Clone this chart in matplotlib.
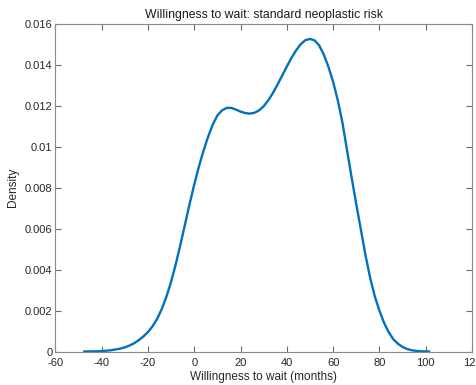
import matplotlib
matplotlib.use("Agg")
import matplotlib.pyplot as plt
from matplotlib.ticker import FuncFormatter

plt.rcParams['font.family'] = ['Liberation Sans', 'DejaVu Sans']
plt.rcParams['axes.unicode_minus'] = False

# Values (kernel density estimate of waiting time)
months = [-48, -46, -44, -42, -40, -38, -36, -34, -32, -30, -28, -26, -24, -22, -20,
          -18, -16, -14, -12, -10, -8, -6, -4, -2, 0, 2, 4, 6, 8, 10, 12, 14, 16, 18,
          20, 22, 24, 26, 28, 30, 32, 34, 36, 38, 40, 42, 44, 46, 48, 50, 52, 54, 56,
          58, 60, 62, 64, 66, 68, 70, 72, 74, 76, 78, 80, 82, 84, 86, 88, 90, 92, 94,
          96, 98, 100, 102]
density = [0.0, 0.000003, 0.000006, 0.00001, 0.00002, 0.00004, 0.00006, 0.0001,
           0.00014, 0.0002, 0.00029, 0.0004, 0.00055, 0.00073, 0.00095,
           0.00123, 0.0016, 0.00208, 0.00268, 0.0034, 0.00425, 0.0052, 0.0062, 0.0072,
           0.00815, 0.00902, 0.0098, 0.01049, 0.01108, 0.01153, 0.01178, 0.0119, 0.0119,
           0.01182, 0.01172, 0.01165, 0.01162, 0.01166, 0.01178, 0.01198, 0.01227,
           0.01263, 0.01304, 0.01348, 0.01392, 0.01434, 0.01471, 0.01501, 0.01521,
           0.01527, 0.0152, 0.01495, 0.0145, 0.0139, 0.01318, 0.01228, 0.0112,
           0.00985, 0.0085, 0.0072, 0.00595, 0.0047, 0.0036, 0.0027, 0.002, 0.0014,
           0.00095, 0.0006, 0.00038, 0.00022, 0.00012, 0.00006, 0.00003, 0.00001,
           0.000003, 0.0]

x_ticks = [-60, -40, -20, 0, 20, 40, 60, 80, 100, 120]
y_ticks = [0, 0.002, 0.004, 0.006, 0.008, 0.01, 0.012, 0.014, 0.016]

fig = plt.figure(figsize=(4.76, 3.85), dpi=100)
ax = fig.add_axes([0.1162, 0.087, 0.8754, 0.8507])

ax.plot(months, density, color='#0072BD', linewidth=1.7,
        solid_joinstyle='round', solid_capstyle='butt')

ax.set_xlim(-60, 120)
ax.set_ylim(0, 0.016)
ax.set_xticks(x_ticks)
ax.set_yticks(y_ticks)
ax.yaxis.set_major_formatter(FuncFormatter(lambda v, p: '%g' % v))

axis_grey = '#8a8a8a'
for s in ax.spines.values():
    s.set_color(axis_grey)
    s.set_linewidth(0.8)
ax.tick_params(direction='in', top=True, right=True, length=4, width=0.8,
               color='#6a6a6a', labelsize=8, labelcolor='#262626', pad=2)
ax.tick_params(axis='x', pad=4.5)

ax.set_title('Willingness to wait: standard neoplastic risk', fontsize=8.8,
             color='#1a1a1a', pad=4)
ax.set_xlabel('Willingness to wait (months)', fontsize=8.5, color='#262626', labelpad=2)
ax.set_ylabel('Density', fontsize=8.5, color='#262626', labelpad=4)

fig.savefig('out.png', dpi=100)
